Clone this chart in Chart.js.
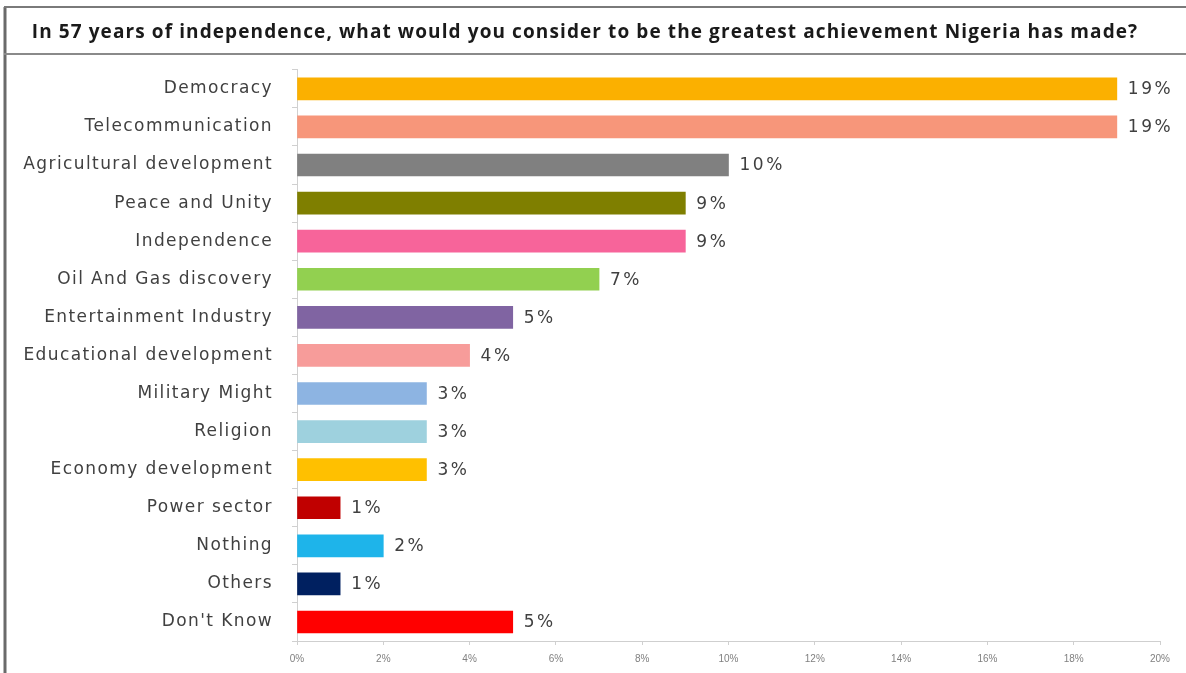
<!DOCTYPE html>
<html>
<head>
<meta charset="utf-8">
<script src="https://cdn.jsdelivr.net/npm/chart.js@4.4.0/dist/chart.umd.min.js"></script>
<style>
html,body{margin:0;padding:0;background:#fff;}
#c{display:block;}
</style>
</head>
<body>
<canvas id="c" width="1186" height="673"></canvas>
<script>
const titleText = "In 57 years of independence, what would you consider to be the greatest achievement Nigeria has made?";
const categories = ["Democracy","Telecommunication","Agricultural development","Peace and Unity","Independence","Oil And Gas discovery","Entertainment Industry","Educational development","Military Might","Religion","Economy development","Power sector","Nothing","Others","Don't Know"];
const values = [19,19,10,9,9,7,5,4,3,3,3,1,2,1,5];
const barColors = ["#FBB000","#F7967A","#808080","#7F7F00","#F7649A","#92D050","#8064A2","#F79C9A","#8DB4E2","#9ED1DE","#FFC000","#C00000","#1EB4EA","#002060","#FF0000"];
const xTickLabels = ["0%","2%","4%","6%","8%","10%","12%","14%","16%","18%","20%"];

const framePlugin = {
  id: 'frame',
  beforeLayout(chart){ chart.ctx.letterSpacing = '1.1px'; },
  beforeDraw(chart){
    const ctx = chart.ctx;
    ctx.letterSpacing = '1.1px';
    ctx.save();
    ctx.fillStyle = '#ffffff';
    ctx.fillRect(0,0,chart.width,chart.height);
    ctx.strokeStyle = '#6a6a6a';
    ctx.lineWidth = 3;
    ctx.beginPath(); ctx.moveTo(5,7); ctx.lineTo(5,chart.height); ctx.stroke();
    ctx.lineWidth = 2;
    ctx.strokeStyle = '#7a7a7a';
    ctx.beginPath(); ctx.moveTo(4,7); ctx.lineTo(chart.width,7); ctx.stroke();
    ctx.strokeStyle = '#8a8a8a';
    ctx.beginPath(); ctx.moveTo(4,54); ctx.lineTo(chart.width,54); ctx.stroke();
    ctx.restore();
  }
};

const valueLabels = {
  id: 'valueLabels',
  afterDatasetsDraw(chart){
    const ctx = chart.ctx;
    const meta = chart.getDatasetMeta(0);
    ctx.save();
    ctx.letterSpacing = '2.5px';
    ctx.font = '17px "DejaVu Sans"';
    ctx.fillStyle = '#404040';
    ctx.textAlign = 'left';
    ctx.textBaseline = 'middle';
    meta.data.forEach((bar,i)=>{
      ctx.fillText(values[i] + '%', bar.x + 11, bar.y + 1);
    });
    ctx.restore();
  }
};

function patchLabels(s, spacing){
  if (s._patchedLabels) return;
  const orig = s.drawLabels.bind(s);
  s.drawLabels = function(ca){
    const c = this.ctx;
    const prev = c.letterSpacing;
    c.letterSpacing = spacing;
    orig(ca);
    c.letterSpacing = prev;
  };
  s._patchedLabels = true;
}

new Chart(document.getElementById('c'), {
  type: 'bar',
  data: {
    labels: categories,
    datasets: [{
      data: values,
      backgroundColor: barColors,
      borderWidth: 0,
      barThickness: 22
    }]
  },
  options: {
    indexAxis: 'y',
    responsive: false,
    animation: false,
    devicePixelRatio: 1,
    layout: { padding: { left: 10, right: 26, top: 0, bottom: 0 } },
    plugins: {
      legend: { display: false },
      tooltip: { enabled: false },
      title: {
        display: true,
        text: titleText,
        color: '#1a1a1a',
        font: { family: '"Open Sans", sans-serif', weight: 'bold', size: 19 },
        padding: { top: 21, bottom: 26 }
      }
    },
    scales: {
      x: {
        min: 0, max: 20,
        ticks: {
          stepSize: 2,
          callback: (v, i) => xTickLabels[i],
          color: '#808080',
          font: { family: '"Liberation Sans", Arial, sans-serif', size: 10 },
          padding: 8,
          maxRotation: 0
        },
        grid: { drawOnChartArea: false, tickLength: 4, color: '#d0d0d0' },
        border: { color: '#cfcfcf' },
        afterFit: s => { s.height = 32; patchLabels(s, '0px'); }
      },
      y: {
        ticks: {
          color: '#404040',
          font: { family: '"DejaVu Sans", sans-serif', size: 17 },
          padding: 19,
          autoSkip: false
        },
        grid: { drawOnChartArea: false, tickLength: 5, color: '#d0d0d0', offset: true },
        border: { color: '#d0d0d0' },
        afterFit: s => { s.width = 287; patchLabels(s, '1.4px'); }
      }
    }
  },
  plugins: [framePlugin, valueLabels]
});
</script>
</body>
</html>
